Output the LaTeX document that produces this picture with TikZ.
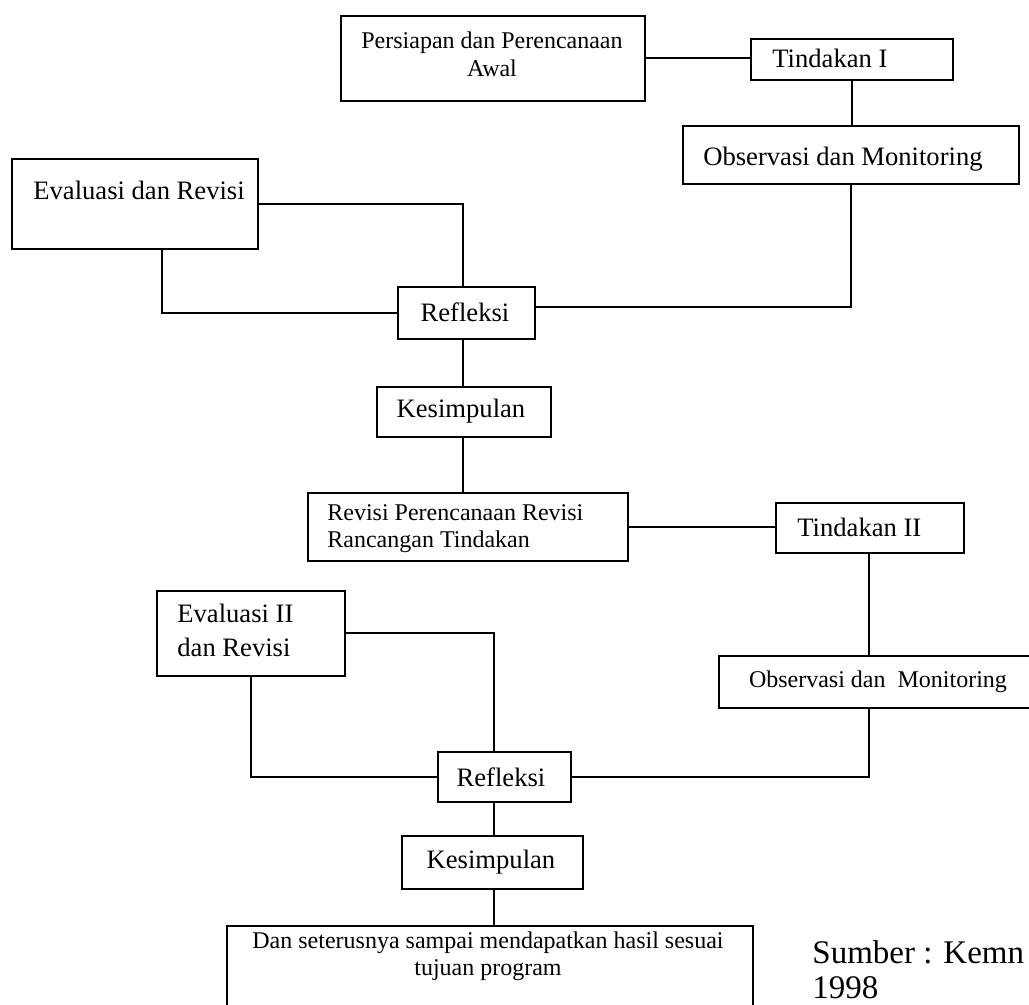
\documentclass[tikz,border=0pt]{standalone}
\usepackage{fontspec}
\setmainfont{Liberation Serif}
\tikzset{box/.style={draw,line width=1pt,inner sep=0pt},
  lbl/.style={inner sep=0pt,font=\fontsize{13.3}{16}\selectfont},
  lblsm/.style={inner sep=0pt,font=\fontsize{12}{14}\selectfont},
  wire/.style={line width=1pt}}
\begin{document}
\begin{tikzpicture}[x=0.5pt,y=-0.5pt]
\useasboundingbox (0,0) rectangle (1029,1005);
% boxes: name / left / top / right / bottom
\foreach \nm/\xa/\ya/\xb/\yb in {persiapan/340/15/644/100, tind1/750/38/952/79,
  obs1/682/125/1018/183, eval1/11/158/257/248, refl1/397/286/534/338,
  kes1/376/386/550/436, revisi/307/492/627/560, tind2/775/502/963/552,
  eval2/156/590/344/675, obs2/718/655/1040/707, refl2/437/751/570/801,
  kes2/401/835/582/888, dan/226/925/752/1012}{
\pgfmathsetmacro{\bw}{(\xb-\xa)/2}
\pgfmathsetmacro{\bh}{(\yb-\ya)/2}
\node[box,minimum width=\bw pt,minimum height=\bh pt,anchor=north west] (\nm) at (\xa,\ya) {};
}
% texts
\node[lblsm,align=center] (persiapan-t) at (492,54) {Persiapan dan Perencanaan\\Awal};
\node[lbl,anchor=west] (tind1-t) at (772,58) {Tindakan I};
\node[lbl] (obs1-t) at (843,159) {Observasi dan Monitoring};
\node[lbl,anchor=west] (eval1-t) at (33,190) {Evaluasi dan Revisi};
\node[lbl] (refl1-t) at (465,312) {Refleksi};
\node[lbl] (kes1-t) at (461,411) {Kesimpulan};
\begin{scope}
\clip (revisi.north west) rectangle ([yshift=4.5pt]revisi.south east);
\node[lblsm,align=left,anchor=west,font=\fontsize{12}{13.5}\selectfont] (revisi-t) at (327,529) {Revisi Perencanaan Revisi\\Rancangan Tindakan};
\end{scope}
\node[lbl,anchor=west] (tind2-t) at (797,527) {Tindakan II};
\node[lbl,align=left,anchor=west,font=\fontsize{13.3}{17}\selectfont] (eval2-t) at (177,630) {Evaluasi II\\dan Revisi};
\node[lblsm] (obs2-t) at (878,682) {Observasi dan \ Monitoring};
\node[lbl] (refl2-t) at (501,777) {Refleksi};
\node[lbl] (kes2-t) at (491,862) {Kesimpulan};
\node[lblsm,align=center,font=\fontsize{12}{13.5}\selectfont] (dan-t) at (488,956) {Dan seterusnya sampai mendapatkan hasil sesuai\\tujuan program};
\node[inner sep=0pt,align=left,anchor=west,font=\fontsize{16.5}{17.5}\selectfont] (sumber) at (812,970) {Sumber : Kemn\\1998};
% connectors
\coordinate (spineA) at (463,0);
\coordinate (spineB) at (494,0);
\coordinate (colA) at (162,0);
\coordinate (colB) at (251,0);
\coordinate (colD) at (869,0);
\draw[wire] (persiapan.east) -- (persiapan.east -| tind1.west);
\draw[wire] (tind1.south) -- (tind1.south |- obs1.north);
\draw[wire] (eval1.east) -| (spineA |- refl1.north);
\draw[wire] (colA |- eval1.south) |- (refl1.west);
\draw[wire] ([yshift=3pt]refl1.east) -| (obs1.south);
\draw[wire] (spineA |- refl1.south) -- (spineA |- kes1.north);
\draw[wire] (spineA |- kes1.south) -- (spineA |- revisi.north);
\draw[wire] (revisi.east) -- (revisi.east -| tind2.west);
\draw[wire] (colD |- tind2.south) -- (colD |- obs2.north);
\draw[wire] (eval2.east) -| (spineB |- refl2.north);
\draw[wire] (colB |- eval2.south) |- (refl2.west);
\draw[wire] (refl2.east) -| (colD |- obs2.south);
\draw[wire] (spineB |- refl2.south) -- (spineB |- kes2.north);
\draw[wire] (spineB |- kes2.south) -- (spineB |- dan.north);
\end{tikzpicture}
\end{document}
